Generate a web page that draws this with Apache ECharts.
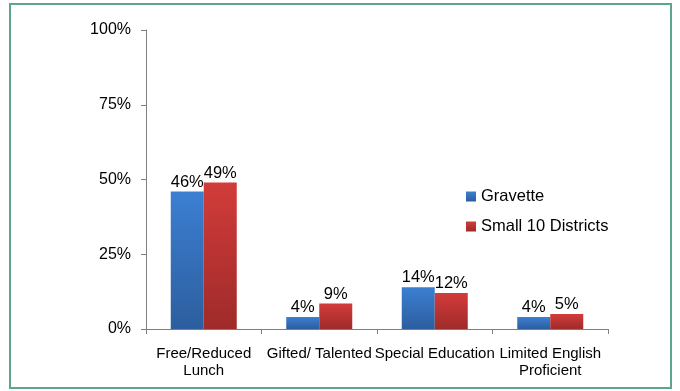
<!DOCTYPE html>
<html>
<head>
<meta charset="utf-8">
<script src="https://cdn.jsdelivr.net/npm/echarts@6/dist/echarts.min.js"></script>
<style>
  html, body { margin: 0; padding: 0; background: #fff; }
  #chart { width: 680px; height: 391px; }
</style>
</head>
<body>
<div id="chart"></div>
<script>
const categories = ['Free/Reduced\nLunch', 'Gifted/ Talented', 'Special Education', 'Limited English\nProficient'];
const gravette = [46, 4, 14, 4];
const small10 = [49, 8.5, 12, 5];
const yTicks = [0, 25, 50, 75, 100];

(function() {
  const chart = echarts.init(document.getElementById('chart'));

  function grad(top, bottom) {
    return new echarts.graphic.LinearGradient(0, 0, 0, 1, [
      { offset: 0, color: top },
      { offset: 1, color: bottom }
    ]);
  }

  const labelStyle = {
    show: true,
    position: 'top',
    distance: 1,
    color: '#000',
    fontFamily: 'Liberation Sans',
    fontSize: 16.5,
    formatter: p => Math.round(p.value) + '%'
  };

  const option = {
    animation: false,
    textStyle: { fontFamily: 'Liberation Sans' },
    graphic: [
      {
        type: 'rect',
        shape: { x: 10, y: 4, width: 661, height: 384 },
        style: { fill: 'none', stroke: '#5fa58a', lineWidth: 2 },
        z: -1
      }
    ],
    legend: {
      orient: 'vertical',
      left: 461,
      top: 183,
      itemWidth: 10,
      itemHeight: 10,
      itemGap: 13,
      icon: 'rect',
      textStyle: { fontSize: 16.5, color: '#000', fontFamily: 'Liberation Sans' },
      data: ['Gravette', 'Small 10 Districts']
    },
    grid: { left: 146, right: 72, top: 30, bottom: 62 },
    xAxis: {
      type: 'category',
      data: categories,
      axisLine: { lineStyle: { color: '#7f7f7f' } },
      axisTick: { show: true, length: 5, lineStyle: { color: '#7f7f7f' } },
      axisLabel: {
        color: '#000',
        fontSize: 15,
        lineHeight: 17,
        margin: 16,
        interval: 0
      }
    },
    yAxis: {
      type: 'value',
      min: 0,
      max: 100,
      interval: 25,
      splitLine: { show: false },
      axisLine: { show: true, lineStyle: { color: '#7f7f7f' } },
      axisTick: { show: true, length: 5, lineStyle: { color: '#7f7f7f' } },
      axisLabel: {
        color: '#000',
        fontSize: 16,
        margin: 15,
        formatter: v => (yTicks.includes(v) ? v + '%' : '')
      }
    },
    series: [
      {
        name: 'Gravette',
        type: 'bar',
        data: gravette,
        barWidth: 33,
        barGap: '0%',
        itemStyle: { color: grad('#3c7fd2', '#2c5e9e') },
        label: labelStyle
      },
      {
        name: 'Small 10 Districts',
        type: 'bar',
        data: small10,
        barWidth: 33,
        itemStyle: { color: grad('#d23c3a', '#9e2b2a') },
        label: labelStyle
      }
    ]
  };

  chart.setOption(option);
}());
</script>
</body>
</html>
